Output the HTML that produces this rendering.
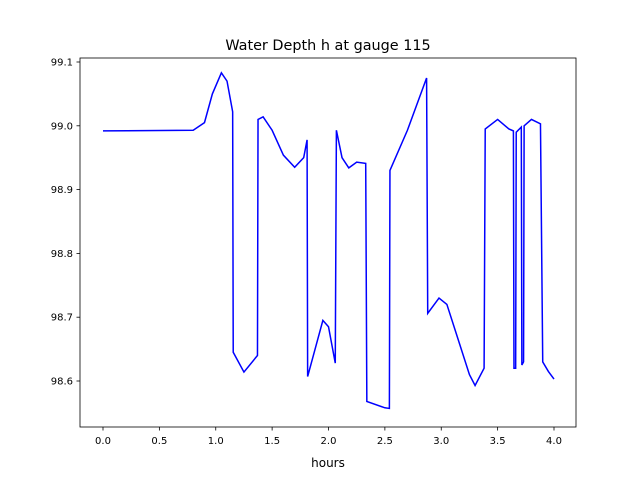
<!DOCTYPE html>
<html><head><meta charset="utf-8"><style>
body{margin:0;background:#fff}
svg text{font-family:"DejaVu Sans","Liberation Sans",sans-serif;fill:#000}
</style></head><body>
<svg width="640" height="480" xmlns="http://www.w3.org/2000/svg">
<rect width="640" height="480" fill="#fff"/>
<text x="328" y="50" font-size="14.4" text-anchor="middle">Water Depth h at gauge 115</text>
<g id="xt"></g>
<g id="yt"></g>
<polyline id="ln" fill="none" stroke="#0000ff" stroke-width="1.5"/>
<rect x="80" y="58" width="496" height="369" fill="none" stroke="#000" stroke-width="0.8"/>
<text x="328" y="467" font-size="12" text-anchor="middle">hours</text>
</svg>
<script>
const xTicks=[0,0.5,1.0,1.5,2.0,2.5,3.0,3.5,4.0];
const xTickLabels=["0.0","0.5","1.0","1.5","2.0","2.5","3.0","3.5","4.0"];
const yTicks=[98.6,98.7,98.8,98.9,99.0,99.1];
const yTickLabels=["98.6","98.7","98.8","98.9","99.0","99.1"];
const hours=[0,0.8,0.9,0.97,1.05,1.1,1.15,1.155,1.25,1.37,1.375,1.42,1.5,1.6,1.7,1.78,1.81,1.815,1.95,2.0,2.06,2.07,2.12,2.18,2.25,2.33,2.34,2.5,2.54,2.545,2.7,2.87,2.88,2.98,3.05,3.15,3.25,3.3,3.38,3.39,3.5,3.6,3.64,3.645,3.66,3.665,3.71,3.715,3.73,3.735,3.8,3.88,3.9,3.95,4.0];
const depth=[98.992,98.993,99.005,99.05,99.083,99.07,99.022,98.645,98.614,98.64,99.01,99.014,98.993,98.954,98.935,98.95,98.978,98.607,98.695,98.685,98.628,98.993,98.95,98.934,98.943,98.941,98.568,98.558,98.557,98.93,98.993,99.075,98.706,98.73,98.72,98.665,98.61,98.593,98.62,98.995,99.01,98.995,98.992,98.62,98.62,98.99,98.998,98.625,98.63,99.0,99.01,99.003,98.63,98.615,98.603];
const sx=h=>103+h*112.75;
const sy=v=>62+(99.1-v)*638;
const NS="http://www.w3.org/2000/svg";
function mk(t,a,p){const e=document.createElementNS(NS,t);for(const k in a)e.setAttribute(k,a[k]);p.appendChild(e);return e;}
const xg=document.getElementById('xt'),yg=document.getElementById('yt');
xTicks.forEach((t,i)=>{const x=sx(t);
const l=mk('line',{x1:x,x2:x,y1:427,y2:430.5,stroke:'#000','stroke-width':0.8},xg);


const tx=mk('text',{x:x,y:444,'font-size':10,'text-anchor':'middle'},xg);tx.textContent=xTickLabels[i];

});
yTicks.forEach((t,i)=>{const y=sy(t);
const l=mk('line',{x1:76.5,x2:80,y1:y,y2:y,stroke:'#000','stroke-width':0.8},yg);


const tx=mk('text',{x:73,y:y+3.5,'font-size':10,'text-anchor':'end'},yg);tx.textContent=yTickLabels[i];

});
document.getElementById('ln').setAttribute('points',hours.map((h,i)=>sx(h)+','+sy(depth[i])).join(' '));
</script>
</body></html>
